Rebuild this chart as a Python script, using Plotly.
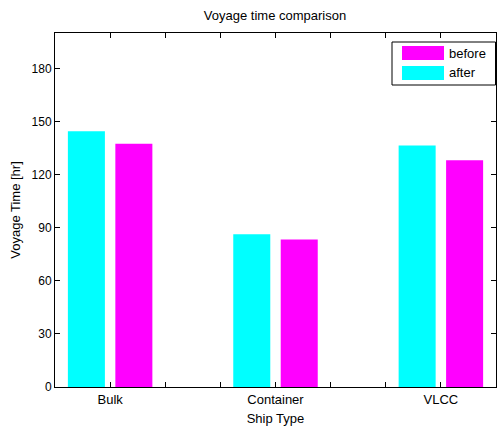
import plotly.graph_objects as go

categories = ["Bulk", "Container", "VLCC"]
after_vals = [144.5, 86.3, 136.5]
before_vals = [137.5, 83.3, 128.1]
y_ticks = [0, 30, 60, 90, 120, 150, 180]

xpos = [1, 2, 3]
CYAN = "#00FFFF"
MAGENTA = "#FF00FF"
FONT = "Liberation Sans"

fig = go.Figure()
fig.add_trace(go.Bar(x=xpos, y=after_vals, name="after", marker=dict(color=CYAN, line=dict(width=0))))
fig.add_trace(go.Bar(x=xpos, y=before_vals, name="before", marker=dict(color=MAGENTA, line=dict(width=0))))

xt = [2/3 + i/3 for i in range(9)]
xtext = []
for v in xt:
    r = round(v)
    xtext.append(categories[r - 1] if abs(v - r) < 1e-6 and 1 <= r <= 3 else "")

W, H = 497, 426
L, R, T = 55, 1, 33
B = H - 387
PW, PH = W - L - R, H - T - B

def px(x):
    return (x - L) / PW

def py(y):
    return 1 - (y - T) / PH

fig.update_layout(
    width=W, height=H,
    margin=dict(l=L, r=R, t=T, b=B, autoexpand=False),
    paper_bgcolor="white", plot_bgcolor="white",
    barmode="group", bargap=0.426, bargroupgap=0.22,
    showlegend=False,
    font=dict(family=FONT, size=13, color="black"),
    title=dict(text="Voyage time comparison", x=275 / W, xanchor="center", y=1 - 15 / H, yanchor="middle",
               font=dict(family=FONT, size=13, color="black")),
    xaxis=dict(range=[2/3, 10/3], tickmode="array", tickvals=xt, ticktext=xtext, automargin=False,
               ticks="inside", ticklen=5, tickcolor="black", showline=True, linecolor="black",
               linewidth=1, mirror="ticks", showgrid=False, zeroline=False,
               title=dict(text="Ship Type", standoff=10, font=dict(size=13)), tickfont=dict(size=13)),
    yaxis=dict(range=[0, 200], tickmode="array", tickvals=y_ticks, automargin=False,
               ticks="inside", ticklen=5, tickcolor="black", showline=True, linecolor="black",
               linewidth=1, mirror="ticks", showgrid=False, zeroline=False,
               title=dict(text="Voyage Time [hr]", standoff=8, font=dict(size=13)), tickfont=dict(size=12)),
)

# legend box drawn manually
fig.add_shape(type="rect", xref="paper", yref="paper", x0=px(392), x1=px(495.5), y0=py(85), y1=py(42),
              line=dict(color="black", width=1), fillcolor="white", layer="above")
entries = [("before", MAGENTA, 53), ("after", CYAN, 73)]
for name, col, yc in entries:
    fig.add_shape(type="rect", xref="paper", yref="paper",
                  x0=px(402), x1=px(444), y0=py(yc + 7), y1=py(yc - 7),
                  line=dict(width=0), fillcolor=col, layer="above")
    fig.add_annotation(xref="paper", yref="paper", x=px(447), y=py(yc),
                       text=name, showarrow=False, xanchor="left", yanchor="middle",
                       font=dict(family=FONT, size=13, color="black"))

fig.write_html("out.html")
